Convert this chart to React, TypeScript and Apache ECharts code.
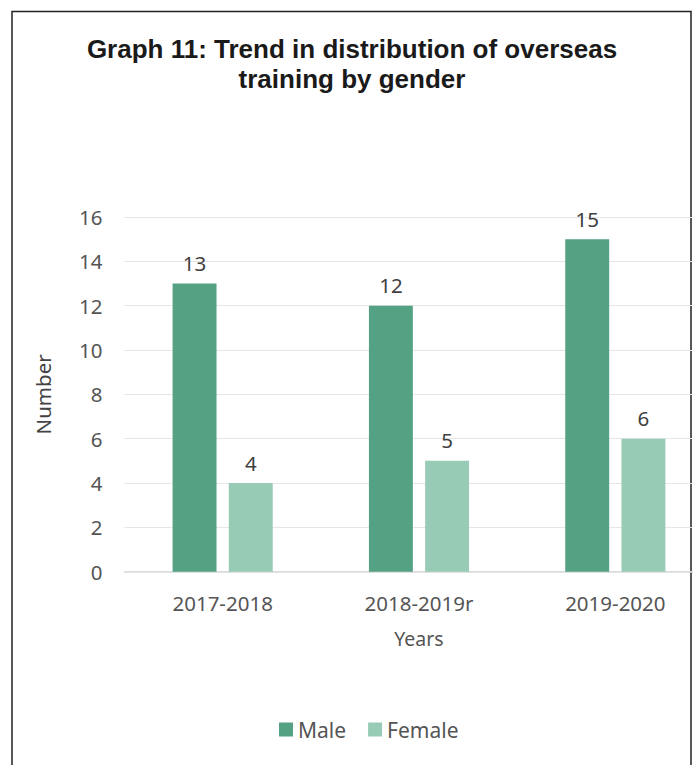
import React, { useEffect, useRef } from "react";
import * as echarts from "echarts";

const categories = ["2017-2018", "2018-2019r", "2019-2020"];
const maleValues = [13, 12, 15];
const femaleValues = [4, 5, 6];
const titleLines = ["Graph 11: Trend in distribution of overseas", "training by gender"];

export default function App() {
  const ref = useRef<HTMLDivElement>(null);
  useEffect(() => {
    const chart = echarts.init(ref.current!, null, { renderer: "svg" });
    const labelFont = "Noto Sans";
    chart.setOption({
      animation: false,
      backgroundColor: "#ffffff",
      title: {
        text: titleLines.join("\n"),
        left: 347,
        top: 29,
        textAlign: "center",
        textStyle: {
          fontFamily: "Liberation Sans",
          fontWeight: "bold",
          fontSize: 26,
          lineHeight: 30,
          color: "#1a1a1a",
        },
      },
      graphic: [
        {
          type: "polyline",
          shape: { points: [[12, 765], [12, 11.5], [691, 11.5], [691, 765]] },
          style: { stroke: "#222", lineWidth: 1.5, fill: "none" },
          silent: true,
        },
      ],
      legend: {
        data: ["Male", "Female"],
        left: 274,
        top: 714,
        icon: "rect",
        itemWidth: 14,
        itemHeight: 14,
        itemGap: 22,
        textStyle: { fontFamily: labelFont, fontSize: 21, color: "#555" },
      },
      grid: { left: 124.5, top: 217, width: 589, height: 354.7, containLabel: false },
      xAxis: {
        type: "category",
        data: categories,
        name: "Years",
        nameLocation: "middle",
        nameGap: 57,
        nameTextStyle: { fontFamily: labelFont, fontSize: 19.5, color: "#555" },
        axisLine: { lineStyle: { color: "#d9d9d9", width: 1.5 } },
        axisTick: { show: false },
        axisLabel: { fontFamily: labelFont, fontSize: 20.5, color: "#555", margin: 21 },
      },
      yAxis: {
        type: "value",
        min: 0,
        max: 16,
        interval: 2,
        name: "Number",
        nameLocation: "middle",
        nameGap: 71,
        nameRotate: 90,
        nameTextStyle: { fontFamily: labelFont, fontSize: 20.5, color: "#444" },
        axisLine: { show: false },
        axisTick: { show: false },
        splitLine: { lineStyle: { color: "#e6e6e6", width: 1.2 } },
        axisLabel: { fontFamily: labelFont, fontSize: 20.5, color: "#555", margin: 22 },
      },
      series: [
        {
          name: "Male",
          type: "bar",
          data: maleValues,
          barGap: "28%",
          barCategoryGap: "49%",
          itemStyle: { color: "#54a183" },
          label: { show: true, position: "top", distance: 10, fontFamily: labelFont, fontSize: 20.5, color: "#404040" },
        },
        {
          name: "Female",
          type: "bar",
          data: femaleValues,
          itemStyle: { color: "#98cbb5" },
          label: { show: true, position: "top", distance: 10, fontFamily: labelFont, fontSize: 20.5, color: "#404040" },
        },
      ],
    });
    return () => chart.dispose();
  }, []);
  return (
    <div style={{ position: "absolute", left: 0, top: 0, width: 693, height: 765, overflow: "hidden" }}>
      <div ref={ref} style={{ width: 730, height: 765 }} />
    </div>
  );
}
